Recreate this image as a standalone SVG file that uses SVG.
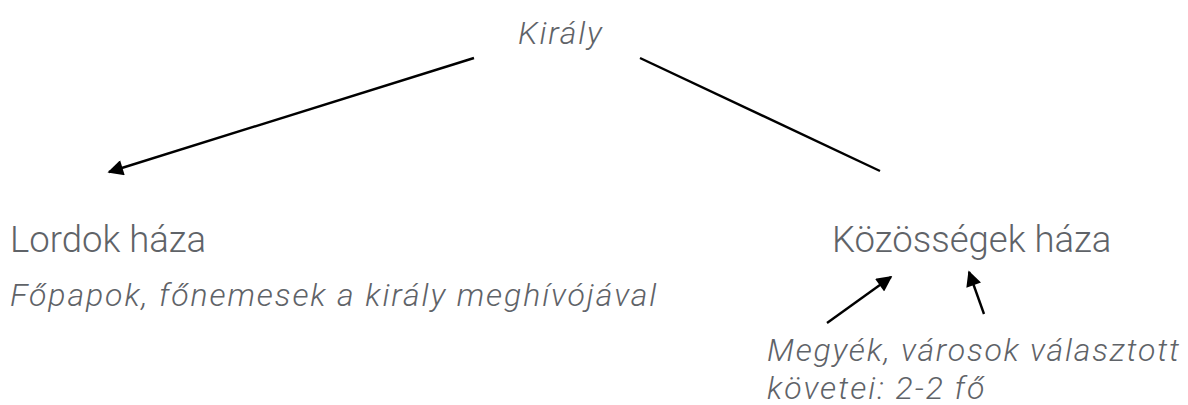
<svg xmlns="http://www.w3.org/2000/svg" width="1188" height="405" viewBox="0 0 1188 405">
<style>
.t{font-family:Roboto,"Liberation Sans",sans-serif;fill:#5f6368;}
.title{font-size:36.5px;font-weight:300;}
.it{font-style:italic;font-weight:300;font-size:32px;}
.ls-k{letter-spacing:1.8px;}
.ls-l{letter-spacing:1.9px;}
.ls-r{letter-spacing:2px;}
.con{stroke:#000;stroke-width:2.4;fill:none;}
</style>
<defs>
<marker id="ah" viewBox="0 0 10 10" refX="9" refY="5" markerWidth="8" markerHeight="6.5" orient="auto" markerUnits="strokeWidth">
<path d="M0,0 L10,5 L0,10 z" fill="#000"/>
</marker>
</defs>
<rect width="1188" height="405" fill="#fff"/>
<g id="connectors">
<line class="con" x1="474" y1="58" x2="109" y2="172" marker-end="url(#ah)"/>
<line class="con" x1="640" y1="58" x2="880" y2="171"/>
<line class="con" x1="827" y1="323" x2="891" y2="277" marker-end="url(#ah)"/>
<line class="con" x1="984" y1="314" x2="969" y2="272" marker-end="url(#ah)"/>
</g>
<g id="kiraly">
<text class="t it ls-k" x="518" y="44">Király</text>
</g>
<g id="lordok">
<text class="t title" x="10" y="252">Lordok háza</text>
<text class="t it ls-l" x="10" y="306">Főpapok, főnemesek a király meghívójával</text>
</g>
<g id="kozossegek">
<text class="t title" x="832" y="252">Közösségek háza</text>
<text class="t it" x="767" y="361" textLength="412" lengthAdjust="spacing">Megyék, városok választott</text>
<text class="t it ls-r" x="767" y="399">követei: 2-2 fő</text>
</g>
</svg>
